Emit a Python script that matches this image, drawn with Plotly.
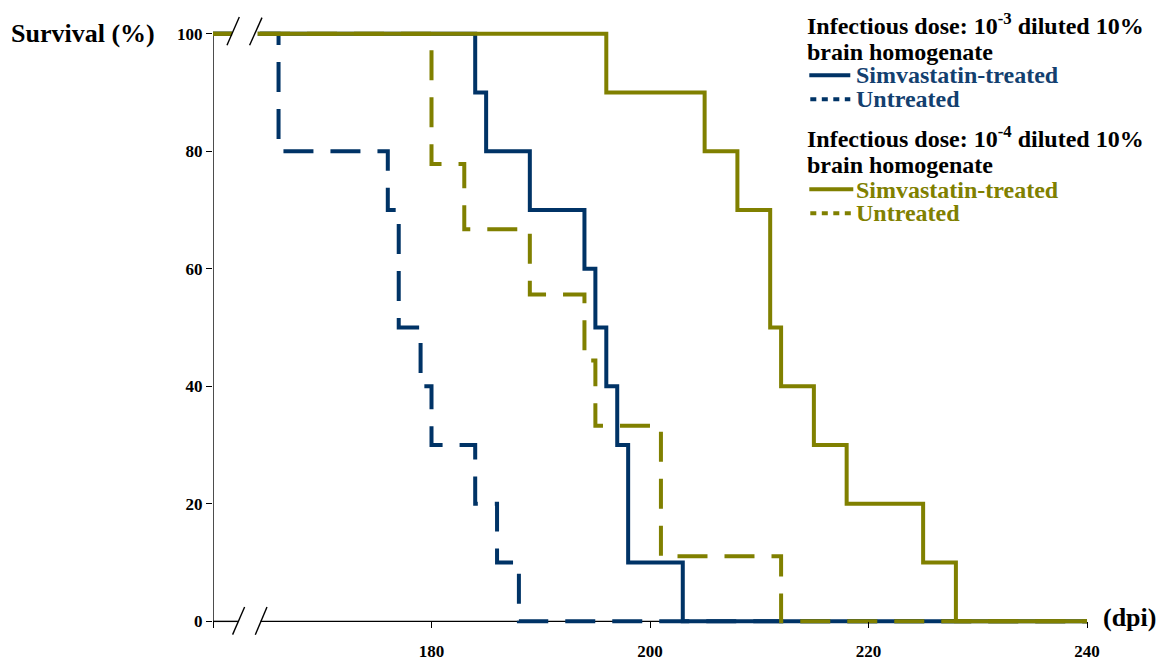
import plotly.graph_objects as go

# ---------------- data ----------------
days_e3_simva = [160, 184, 185, 189, 194, 195, 196, 197, 198, 203, 240]
surv_e3_simva = [100, 90, 80, 70, 60, 50, 40, 30, 10, 0, 0]

days_e3_untreated = [160, 166, 176, 177, 179, 180, 184, 186, 188, 240]
surv_e3_untreated = [100, 80, 70, 50, 40, 30, 20, 10, 0, 0]

days_e4_simva = [160, 196, 205, 208, 211, 212, 215, 218, 225, 228, 240]
surv_e4_simva = [100, 90, 80, 70, 50, 40, 30, 20, 10, 0, 0]

days_e4_untreated = [160, 180, 183, 189, 194, 195, 201, 212, 240]
surv_e4_untreated = [100, 77.8, 66.7, 55.6, 44.4, 33.3, 11.1, 0, 0]

x_tickvals = [160, 180, 200, 220, 240]
x_ticktext = ["", "180", "200", "220", "240"]
y_tickvals = [0, 20, 40, 60, 80, 100]

# ---------------- styling ----------------
NAVY = "#003366"
NAVY_TEXT = "#13406f"
OLIVE = "#808000"
FONT = "Liberation Serif, Times New Roman, serif"
W, H = 1168, 665
L, R, T, B = 212.7, 81.3, 15.65, 25.65
X_RANGE = [160, 240]
Y_RANGE = [-3, 103]
DASH = "30px,17px"


def pxx(px):
    return (px - L) / (W - L - R)


def pxy(py):
    return (H - B - py) / (H - T - B)


def dx(px):
    return X_RANGE[0] + (px - L) * (X_RANGE[1] - X_RANGE[0]) / (W - L - R)


def dy(py):
    return Y_RANGE[0] + (H - B - py) * (Y_RANGE[1] - Y_RANGE[0]) / (H - T - B)


fig = go.Figure()

fig.add_trace(go.Scatter(x=days_e3_untreated, y=surv_e3_untreated, mode="lines",
                         line=dict(color=NAVY, width=4, dash=DASH, shape="hv"),
                         showlegend=False, hoverinfo="skip"))
fig.add_trace(go.Scatter(x=days_e3_simva, y=surv_e3_simva, mode="lines",
                         line=dict(color=NAVY, width=4, shape="hv"),
                         showlegend=False, hoverinfo="skip"))
fig.add_trace(go.Scatter(x=days_e4_untreated, y=surv_e4_untreated, mode="lines",
                         line=dict(color=OLIVE, width=4, dash=DASH, shape="hv"),
                         showlegend=False, hoverinfo="skip"))
fig.add_trace(go.Scatter(x=days_e4_simva, y=surv_e4_simva, mode="lines",
                         line=dict(color=OLIVE, width=4, shape="hv"),
                         showlegend=False, hoverinfo="skip"))

shapes = []
axis_line = dict(color="black", width=1.4)
# y axis line
shapes.append(dict(type="line", xref="x", yref="y", x0=160, x1=160, y0=0, y1=100,
                   line=axis_line, layer="below"))
# x axis line with break
shapes.append(dict(type="line", xref="x", yref="y", x0=160, x1=dx(237.6), y0=0, y1=0,
                   line=axis_line, layer="below"))
shapes.append(dict(type="line", xref="x", yref="y", x0=dx(260.3), x1=240, y0=0, y1=0,
                   line=axis_line, layer="below"))
# top break: blank out the lines, then slashes
shapes.append(dict(type="rect", xref="x", yref="y", x0=dx(231.8), x1=dx(257.2),
                   y0=dy(40), y1=dy(27), fillcolor="white", line=dict(width=0),
                   layer="above"))
for (a, b, c, d) in [(226.7, 45, 239.0, 16.7), (249.3, 45, 261.7, 17.3),
                     (232.3, 635, 244.3, 607.3), (255.0, 635, 266.7, 607.3)]:
    shapes.append(dict(type="line", xref="x", yref="y", x0=dx(a), y0=dy(b),
                       x1=dx(c), y1=dy(d), line=axis_line, layer="above"))

# legend samples
shapes.append(dict(type="line", xref="paper", yref="paper", x0=pxx(809), x1=pxx(850),
                   y0=pxy(75), y1=pxy(75), line=dict(color=NAVY, width=4)))
shapes.append(dict(type="line", xref="paper", yref="paper", x0=pxx(810), x1=pxx(850),
                   y0=pxy(99), y1=pxy(99), line=dict(color=NAVY, width=4, dash="6px,5.5px")))
shapes.append(dict(type="line", xref="paper", yref="paper", x0=pxx(809), x1=pxx(853),
                   y0=pxy(189), y1=pxy(189), line=dict(color=OLIVE, width=4)))
shapes.append(dict(type="line", xref="paper", yref="paper", x0=pxx(810), x1=pxx(855),
                   y0=pxy(213), y1=pxy(213), line=dict(color=OLIVE, width=4, dash="6px,5.5px")))

annotations = []


def txt(text, px, py, size, color="black"):
    annotations.append(dict(text=text, xref="paper", yref="paper", x=pxx(px), y=pxy(py),
                            xanchor="left", yanchor="middle", showarrow=False,
                            font=dict(family=FONT, size=size, color=color, weight="bold")))


txt("Survival (%)", 9, 33, 26)
txt("(dpi)", 1101, 618, 26)
txt("Infectious dose: 10<sup>-3</sup> diluted 10%", 805, 24, 24)
txt("brain homogenate", 805, 52, 24)
txt("Simvastatin-treated", 854, 75, 24, NAVY_TEXT)
txt("Untreated", 854, 99, 24, NAVY_TEXT)
txt("Infectious dose: 10<sup>-4</sup> diluted 10%", 805, 137, 24)
txt("brain homogenate", 805, 165, 24)
txt("Simvastatin-treated", 854, 190, 24, OLIVE)
txt("Untreated", 854, 213, 24, OLIVE)

tickfont = dict(family=FONT, size=17, color="black", weight="bold")

fig.update_layout(
    width=W, height=H,
    margin=dict(l=L, r=R, t=T, b=B, autoexpand=False),
    paper_bgcolor="white", plot_bgcolor="white",
    shapes=shapes, annotations=annotations,
    xaxis=dict(range=X_RANGE, anchor="free", position=(0 - Y_RANGE[0]) / (Y_RANGE[1] - Y_RANGE[0]),
               tickvals=x_tickvals, ticktext=x_ticktext, ticks="outside", ticklen=6,
               tickwidth=1.4, tickcolor="black", showline=False, showgrid=False,
               zeroline=False, tickfont=tickfont, automargin=False, ticklabelstandoff=8),
    yaxis=dict(range=Y_RANGE, tickvals=y_tickvals, ticks="outside", ticklen=6,
               tickwidth=1.4, tickcolor="black", showline=False, showgrid=False,
               zeroline=False, tickfont=tickfont, automargin=False),
)

fig.write_html("out.html")
